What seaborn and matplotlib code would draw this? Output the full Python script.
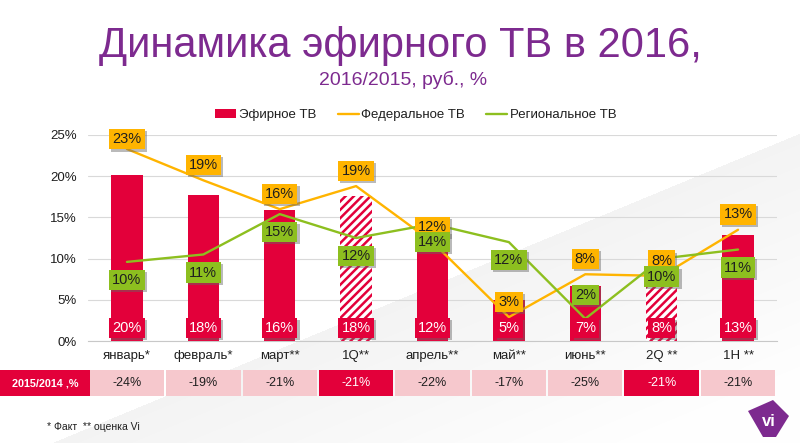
import numpy as np
import pandas as pd
import matplotlib
matplotlib.use("Agg")
import matplotlib.pyplot as plt
import seaborn as sns
from matplotlib.patches import Rectangle, Polygon, Patch
from matplotlib.lines import Line2D
import matplotlib.patheffects as pe
import matplotlib.transforms as mtrans
from matplotlib import font_manager

# ---------------- data ----------------
categories = ['январь*', 'февраль*', 'март**', '1Q**', 'апрель**', 'май**', 'июнь**', '2Q **', '1H **']
efir = [20.2, 17.7, 15.9, 17.6, 12.0, 5.0, 6.7, 7.9, 12.9]
federal = [23.3, 19.5, 16.0, 18.8, 12.0, 2.9, 8.1, 7.9, 13.5]
regional = [9.6, 10.5, 15.4, 12.5, 14.2, 12.0, 2.7, 10.0, 11.1]
efir_labels = ['20%', '18%', '16%', '18%', '12%', '5%', '7%', '8%', '13%']
federal_labels = ['23%', '19%', '16%', '19%', '12%', '3%', '8%', '8%', '13%']
regional_labels = ['10%', '11%', '15%', '12%', '14%', '12%', '2%', '10%', '11%']
yoy_2015 = ['-24%', '-19%', '-21%', '-21%', '-22%', '-17%', '-25%', '-21%', '-21%']
is_aggregate = [False, False, False, True, False, False, False, True, False]
yticks = [0, 5, 10, 15, 20, 25]

# ---------------- style ----------------
RED = '#e3003a'
ORANGE = '#ffb400'
GREEN = '#8dbf1f'
PURPLE = '#7d2a8f'
PINK = '#f6c8cd'
DARK = '#1f1f1f'

sns.set_style('white')
plt.rcParams['font.family'] = ['Liberation Sans', 'DejaVu Sans']
plt.rcParams['hatch.linewidth'] = 1.8
plt.rcParams['hatch.color'] = RED

names = {f.name for f in font_manager.fontManager.ttflist}
narrow_ok = 'Liberation Sans Narrow' in names
NARROW = ['Liberation Sans Narrow', 'Liberation Sans', 'DejaVu Sans'] if narrow_ok else ['Liberation Sans', 'DejaVu Sans']

W, H = 800, 443
fig = plt.figure(figsize=(W / 100, H / 100), dpi=100)
fig.patch.set_facecolor('white')

# background diagonal grey wedge with fade
bg = fig.add_axes([0, 0, 1, 1], zorder=-10)
bg.axis('off')
yy, xx = np.mgrid[0:H, 0:W]
x1, y1, x2, y2 = 51, 443, 800, 133
nx, ny = (y2 - y1), -(x2 - x1)
nrm = np.hypot(nx, ny)
dist = -((xx - x1) * nx + (yy - y1) * ny) / nrm
val = np.where(dist > 0, 0.955 + 0.042 * np.clip(dist / 220, 0, 1), 1.0)
img = np.dstack([val, val, val])
bg.imshow(img, extent=[0, W, H, 0], aspect='auto', interpolation='bilinear')
bg.set_xlim(0, W)
bg.set_ylim(H, 0)

# main axes
ax = fig.add_axes([88 / W, 1 - 341 / H, (777 - 88) / W, (341 - 135) / H])
ax.set_facecolor('none')

df = pd.DataFrame({'cat': categories, 'efir': efir, 'federal': federal,
                   'regional': regional, 'pos': np.arange(len(categories))})

sns.barplot(data=df, x='cat', y='efir', order=categories, color=RED, width=0.41,
            saturation=1, ax=ax, zorder=2)
for patch, agg in zip(ax.patches, is_aggregate):
    patch.set_linewidth(0)
    if agg:
        patch.set_facecolor('white')
        patch.set_edgecolor(RED)
        patch.set_hatch('////')
        patch.set_linewidth(0)

sns.lineplot(data=df, x='pos', y='federal', color=ORANGE, lw=1.7, ax=ax, zorder=3)
sns.lineplot(data=df, x='pos', y='regional', color=GREEN, lw=1.7, ax=ax, zorder=3)

ax.set_xlim(-0.51, 8.51)
ax.set_ylim(0, 25)
ax.set_yticks(yticks)
ax.set_yticklabels([f'{v}%' for v in yticks])
ax.set_xticks(range(len(categories)))
ax.set_xticklabels(categories)
ax.set_xlabel('')
ax.set_ylabel('')
ax.tick_params(axis='y', length=0, pad=8, labelsize=9.5, labelcolor=DARK)
ax.tick_params(axis='x', length=0, pad=6.5, labelsize=9.5, labelcolor=DARK)
ax.yaxis.grid(True, color='#d9d9d9', lw=0.8, zorder=0)
ax.set_axisbelow(True)
for s in ['top', 'right', 'left']:
    ax.spines[s].set_visible(False)
ax.spines['bottom'].set_color('#c8c8c8')
ax.spines['bottom'].set_linewidth(0.8)

shadow = [pe.withSimplePatchShadow(offset=(1.5, -1.5), shadow_rgbFace='#666666', alpha=0.45)]


def boxed(x, y, text, dy, fc, tc):
    a = ax.annotate(text, (x, y), xytext=(0, dy), textcoords='offset points',
                    ha='center', va='center', fontsize=10.5, color=tc, zorder=6,
                    annotation_clip=False,
                    bbox=dict(boxstyle='square,pad=0.22', fc=fc, ec='none'))
    a.get_bbox_patch().set_path_effects(shadow)
    return a


fed_dy = {0: 7}
reg_dy = {6: 17}
for i in range(len(categories)):
    boxed(i, federal[i], federal_labels[i], fed_dy.get(i, 11), ORANGE, DARK)
    boxed(i, regional[i], regional_labels[i], reg_dy.get(i, -13), GREEN, DARK)
    boxed(i, 0, efir_labels[i], 9.5, RED, 'white')

# legend
handles = [Patch(facecolor=RED, edgecolor='none'),
           Line2D([], [], color=ORANGE, lw=1.7),
           Line2D([], [], color=GREEN, lw=1.7)]
fig.legend(handles, ['Эфирное ТВ', 'Федеральное ТВ', 'Региональное ТВ'],
           loc='center', bbox_to_anchor=(416 / W, 1 - 115 / H), ncol=3, frameon=False,
           fontsize=9.5, handlelength=1.6, handleheight=0.6, handletextpad=0.2,
           columnspacing=1.6, labelcolor=DARK)

# titles
fig.text(400 / W, 1 - 57 / H, 'Динамика эфирного ТВ в 2016,', ha='center', va='baseline',
         fontsize=30, color=PURPLE)
fig.text(403 / W, 1 - 85 / H, '2016/2015, руб., %', ha='center', va='baseline',
         fontsize=18 if narrow_ok else 14, color=PURPLE, family=NARROW)

# table row
blend = mtrans.blended_transform_factory(ax.transData, fig.transFigure)
ty0, ty1 = 1 - 396 / H, 1 - 370 / H
fig.add_artist(Rectangle((0, ty0), 90 / W, ty1 - ty0, transform=fig.transFigure,
                         fc=RED, ec='none', zorder=1))
fig.text(45 / W, (ty0 + ty1) / 2, '2015/2014 ,%', ha='center', va='center', color='white',
         fontsize=9 if narrow_ok else 7.8, fontweight='bold', family=NARROW, zorder=3)
for i, v in enumerate(yoy_2015):
    fc = RED if is_aggregate[i] else PINK
    tc = 'white' if is_aggregate[i] else DARK
    fig.add_artist(Rectangle((i - 0.487, ty0), 0.974, ty1 - ty0, transform=blend,
                             fc=fc, ec='none', zorder=1))
    fig.text(i, (ty0 + ty1) / 2, v, transform=blend, ha='center', va='center',
             color=tc, fontsize=10 if narrow_ok else 9, family=NARROW, zorder=3)

# footnote
fig.text(47 / W, 1 - 427 / H, '* Факт  ** оценка Vi', ha='left', va='center',
         fontsize=8.5 if narrow_ok else 7.5, color=DARK, family=NARROW)

# logo
pts = [(748, 411), (773, 400), (789, 416), (776, 437), (763, 437)]
fig.add_artist(Polygon([(x / W, 1 - y / H) for x, y in pts], closed=True,
                       transform=fig.transFigure, fc=PURPLE, ec='none', zorder=1))
fig.text(769 / W, 1 - 421 / H, 'vi', ha='center', va='center', color='white',
         fontsize=12, fontweight='bold', zorder=3)

fig.savefig('out.png', dpi=100)
